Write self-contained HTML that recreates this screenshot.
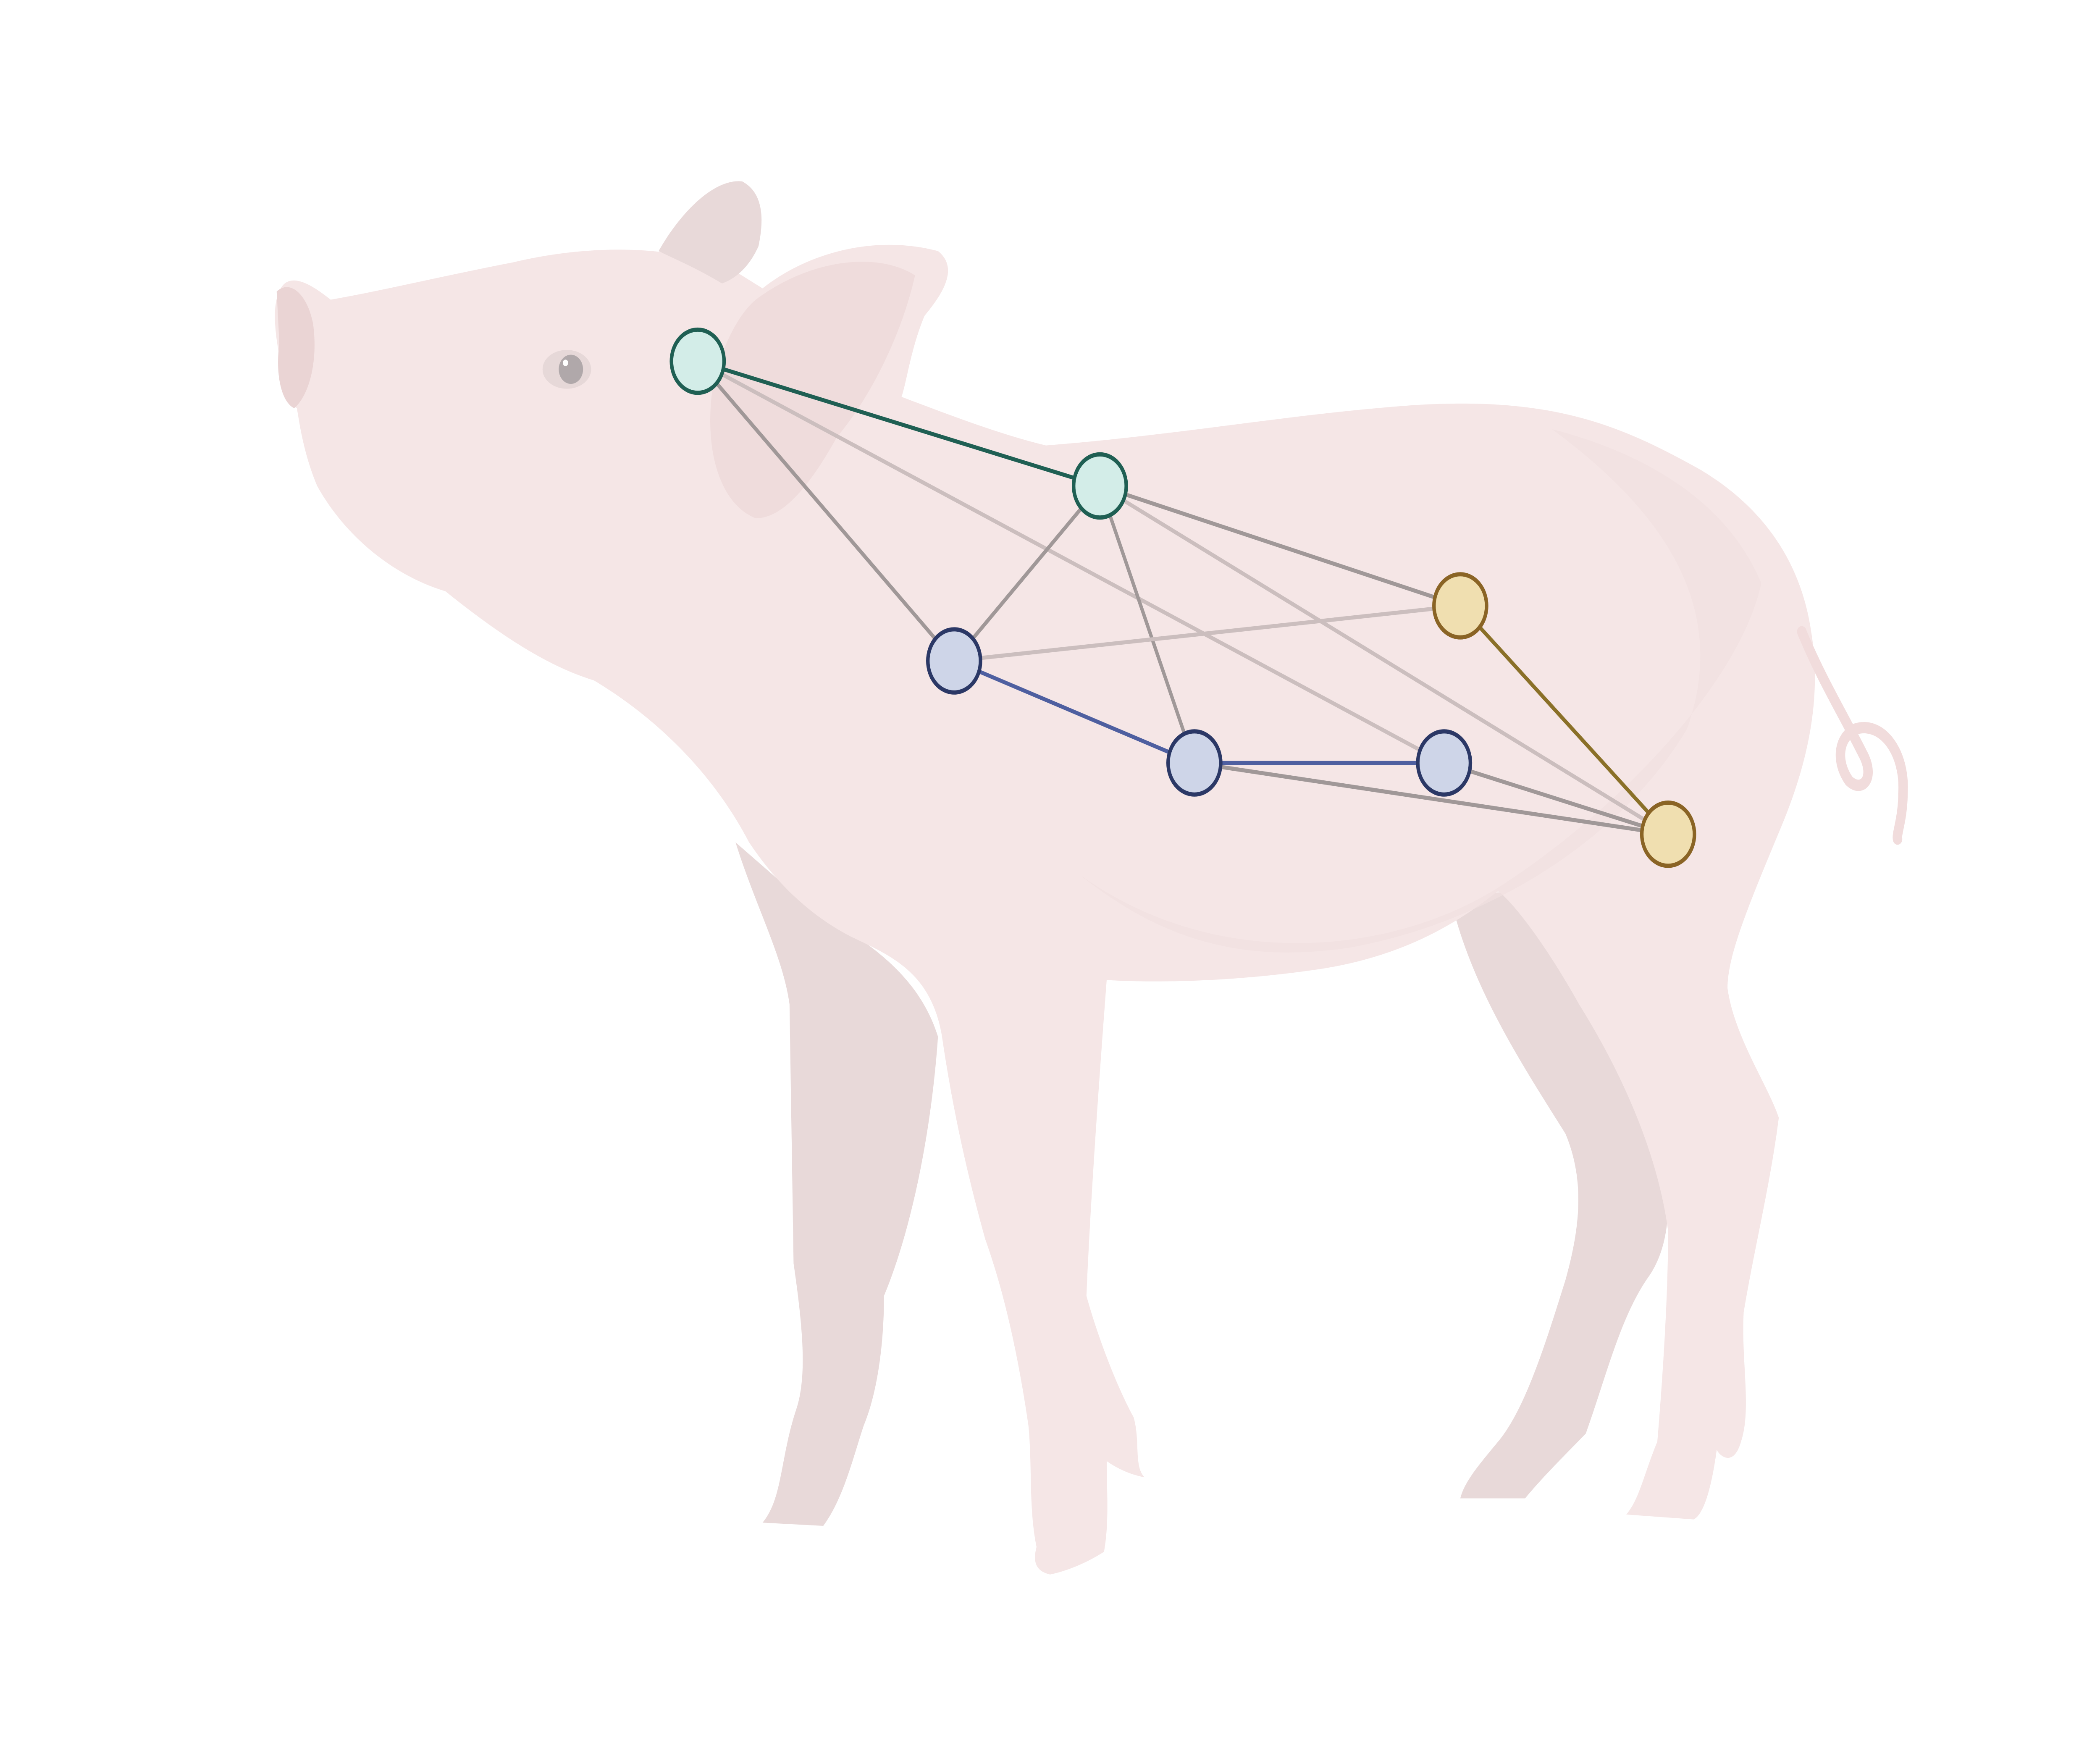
<!DOCTYPE html>
<html><head><meta charset="utf-8"><style>
html,body{margin:0;padding:0;background:#fff;overflow:hidden;width:100%;height:100%;}
svg{display:block;width:100vw;height:100vh;}
</style></head><body>
<svg viewBox="0 0 1556 1089" preserveAspectRatio="none" xmlns="http://www.w3.org/2000/svg">
<g>
 <path fill="#e8d9d9" d="M545,520 C560,560 580,590 585,620 L588,780 C595,820 598,850 590,870 C578,900 580,925 565,940 L610,942 C625,925 632,900 640,880 C650,860 655,830 655,800 C675,760 690,700 695,640 C680,600 640,580 600,560 Z"/>
 <path fill="#e8d9d9" d="M1075,555 C1090,610 1130,660 1160,700 C1175,730 1170,760 1160,790 C1145,830 1130,870 1110,890 C1095,905 1085,915 1082,925 L1130,925 C1145,910 1160,898 1175,885 C1190,850 1200,815 1220,790 C1238,770 1240,740 1230,700 C1200,640 1150,580 1120,550 Z"/>
 <path fill="#f5e6e6" d="M208,178 C215,168 230,175 245,185 C280,180 330,170 380,162 C430,152 490,150 540,165 L565,178 C600,155 650,145 695,155 C710,165 700,180 685,195 C675,215 672,235 668,245 C700,255 740,268 775,275 C880,268 960,255 1050,250 C1150,245 1200,262 1260,290 C1310,315 1335,350 1342,390 C1350,430 1340,470 1320,510 C1295,560 1280,590 1280,610 C1285,640 1310,670 1318,690 C1312,730 1300,770 1292,810 C1290,840 1298,870 1290,890 C1285,905 1275,900 1272,895 C1268,920 1262,935 1255,938 L1205,935 C1215,925 1218,910 1228,890 C1232,850 1236,800 1236,760 C1228,710 1200,660 1170,620 C1150,590 1125,560 1110,550 C1080,570 1040,590 980,598 C900,608 840,606 820,605 C815,660 808,740 805,800 C815,830 830,860 840,875 C845,890 840,905 848,912 C835,910 825,905 820,902 C820,920 822,940 818,958 C805,965 790,970 778,972 C768,970 765,965 768,955 C762,930 765,905 762,880 C755,840 745,800 730,765 C715,720 705,680 698,640 C690,600 660,590 630,578 C600,565 575,545 555,520 C530,480 490,445 440,420 C400,410 360,385 330,365 C290,355 255,330 235,300 C225,280 222,262 220,252 C212,248 205,240 208,225 C205,210 200,190 208,178 Z"/>
 <path fill="#efdcdc" d="M560,185 C600,160 650,155 678,170 C670,200 650,240 620,270 C600,300 580,320 560,320 C530,310 520,270 530,230 C540,205 550,192 560,185 Z"/>
 <path fill="#e8d9d9" d="M488,155 C505,130 530,110 550,112 C568,120 565,140 562,152 C555,165 545,172 535,175 C515,165 500,160 488,155 Z"/>
 <path fill="#f1dfdf" opacity="0.7" d="M800,540 C900,600 1030,590 1110,548 C1200,500 1290,420 1305,360 C1280,310 1220,280 1150,265 C1240,320 1280,380 1250,450 C1200,520 1100,570 1000,585 C920,595 860,580 800,540 Z"/>
 <path fill="none" stroke="#f1dcdc" stroke-width="7" stroke-linecap="round" d="M1335,390 C1350,420 1365,440 1380,465 C1390,480 1380,490 1370,482 C1360,470 1362,455 1375,450 C1395,445 1412,465 1410,490 C1410,505 1405,515 1406,518"/>
 <ellipse cx="420" cy="228" rx="18" ry="12" fill="#e6d8d8"/>
 <circle cx="423" cy="228" r="9" fill="#b0a8aa"/>
 <circle cx="419" cy="224" r="2" fill="#fff"/>
 <path fill="#ead4d4" d="M205,180 C215,172 228,182 232,200 C236,225 228,245 218,252 C208,248 204,230 207,212 Z"/>
</g>
<g id="edges"></g>
<g id="nodes"></g>
</svg>
<script>
const nodeNames = ["head-node","neck-node","shoulder-node","mid-node","flank-node","loin-node","ham-node"];
const nodeX = [517, 815, 707, 885, 1070, 1082, 1236];
const nodeY = [223, 300, 408, 471, 471, 374, 515];
const nodeGroup = [0, 0, 1, 1, 1, 2, 2];
const edgeFrom = [0,0,0,1,1,1,1,2,2,3,3,4,5];
const edgeTo   = [1,2,4,2,3,5,6,5,3,4,6,6,6];
const edgeKind = ["g0","gray","light","gray","gray","gray","light","light","g1","g1","gray","gray","g2"];
const fills = ["#d3ede8","#ced5e8","#f0dfb0"];
const strokes = ["#1f5f53","#2b3866","#8a6425"];
const edgeColor = {g0:"#1f5f53", g1:"#4e5fa0", g2:"#8a7028", gray:"#a09898", light:"#cbbebe"};
const NS="http://www.w3.org/2000/svg";
const eg=document.getElementById('edges'), ng=document.getElementById('nodes');
edgeFrom.forEach((f,i)=>{
  const t=edgeTo[i];
  const l=document.createElementNS(NS,'line');
  l.setAttribute('x1',nodeX[f]);l.setAttribute('y1',nodeY[f]);
  l.setAttribute('x2',nodeX[t]);l.setAttribute('y2',nodeY[t]);
  l.setAttribute('stroke',edgeColor[edgeKind[i]]);
  l.setAttribute('stroke-width',2.5);
  
  
  eg.appendChild(l);
});
nodeX.forEach((x,i)=>{
  const c=document.createElementNS(NS,'circle');
  c.setAttribute('cx',x);c.setAttribute('cy',nodeY[i]);c.setAttribute('r',19.5);
  c.setAttribute('fill',fills[nodeGroup[i]]);
  c.setAttribute('stroke',strokes[nodeGroup[i]]);
  c.setAttribute('stroke-width',2.6);
  
  
  ng.appendChild(c);
});
</script>
</body></html>
